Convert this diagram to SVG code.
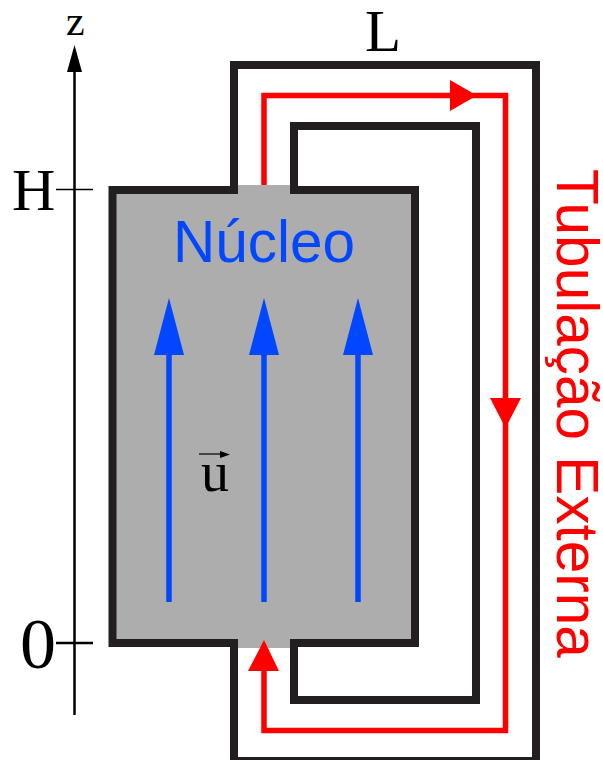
<svg xmlns="http://www.w3.org/2000/svg" width="603" height="760" viewBox="0 0 603 760">
<style>
.wall{fill:none;stroke:#231f20;stroke-width:8;stroke-miterlimit:10}
.flow{fill:none;stroke:#f00;stroke-width:5.5}
.u{stroke:#0047ff;stroke-width:5.5;fill:none}
.ax{stroke:#000;fill:none}
.serif{font-family:"Liberation Serif","Times New Roman",serif;fill:#000}
.sans{font-family:"Liberation Sans",Arial,sans-serif}
</style>
<rect width="603" height="760" fill="#fff"/>
<g id="nucleo">
<path d="M112 190H237V185H290V190H415V643H290V648H237V643H112Z" fill="#adadad"/>
<path class="wall" d="M234 187V65H536V761H234V643H112.5V190H238"/>
<path class="wall" d="M290 190H415V643H294V700H476V126H294V190"/>
<text class="sans" x="173" y="262" font-size="58.500" fill="#0047ff">Núcleo</text>
</g>
<g id="connectors">
<path class="flow" d="M264 185V95.5H505.5V730.5H264V670"/>
<path d="M450 80L477 95.5L450 111Z" fill="#f00"/>
<path d="M490 398H521L505.500 428Z" fill="#f00"/>
<path d="M264 640L279 671H248Z" fill="#f00"/>
<path class="u" d="M169 602V350M264 602V350M358 602V350"/>
<path d="M169 298L184 355H154Z M264 298L279 355H249Z M358 298L373 355H343Z" fill="#0047ff"/>
<path class="ax" stroke-width="2.500" d="M74.500 715V70"/>
<path d="M74.500 45L82 72H67Z" fill="#000"/>
<path class="ax" stroke-width="1.500" d="M56 189.500H93"/>
<path class="ax" stroke-width="2.500" d="M56 643H93"/>
</g>
<g id="labels">
<text class="serif" x="66" y="35" font-size="42">z</text>
<text class="serif" x="12" y="210" font-size="60">H</text>
<text class="serif" x="20" y="668" font-size="72">0</text>
<text class="serif" x="365" y="51" font-size="59">L</text>
<text class="serif" x="201" y="491" font-size="56">u</text>
<path d="M199 454H224" stroke="#000" stroke-width="1.200" fill="none"/>
<path d="M230 454.500L220 451V458Z" fill="#000"/>
<text class="sans" transform="translate(557 169) rotate(90)" font-size="58.500" fill="#f00">Tubulação Externa</text>
</g>
</svg>
